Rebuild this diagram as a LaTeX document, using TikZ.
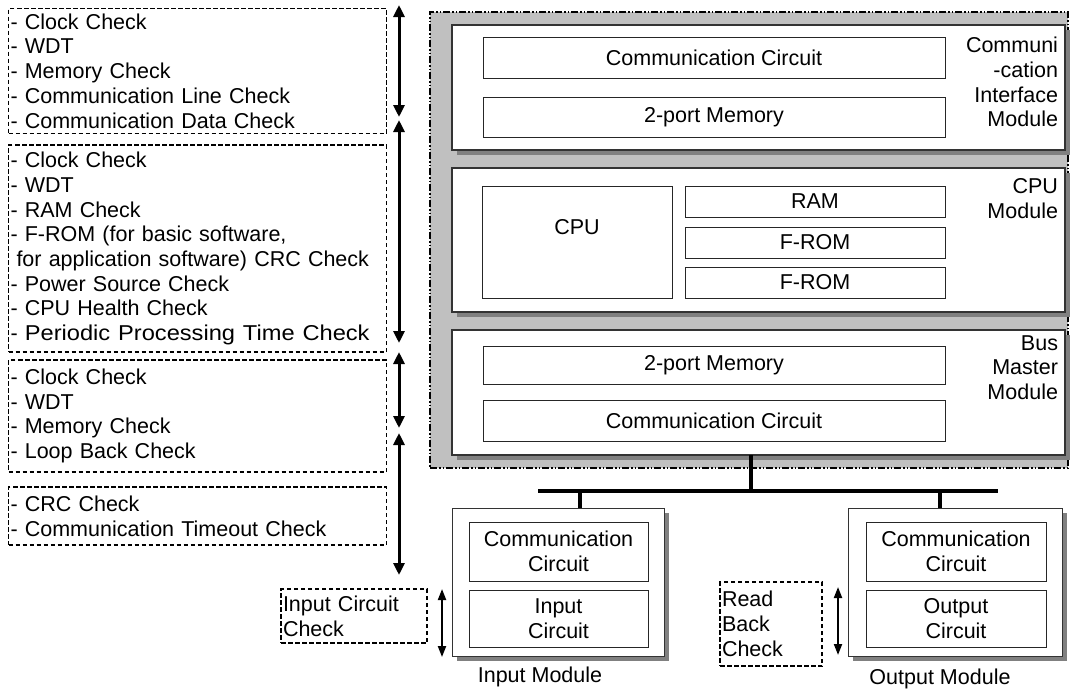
\documentclass[tikz,border=0pt]{standalone}
\usepackage{fontspec}
\usepackage{graphicx}
\setmainfont{Liberation Sans}
\usetikzlibrary{arrows.meta}
\definecolor{panelgray}{HTML}{C0C0C0}
\definecolor{shadowgray}{HTML}{808080}
\definecolor{edgegray}{HTML}{333333}
\begin{document}
\begin{tikzpicture}[x=1pt,y=-1pt,
  every node/.style={font=\fontsize{21.5}{24.7}\selectfont, inner sep=0pt, outer sep=0pt},
  chkbox/.style={draw=black, line width=1.6pt, dash pattern=on 4.5pt off 2.5pt, align=left, inner xsep=2pt},
  panelbox/.style={fill=panelgray, draw=black, line width=1.6pt, dash pattern=on 7pt off 2pt on 1.5pt off 2pt on 1.5pt off 2pt},
  module/.style={draw=edgegray, line width=1.3pt, fill=white},
  part/.style={draw=black!85, line width=1pt, fill=white, align=center},
  shade/.style={fill=shadowgray, draw=none},
  dimarrow/.style={line width=3pt, {Triangle[width=11pt,length=12pt]}-{Triangle[width=11pt,length=12pt]}},
  smallarrow/.style={line width=2pt, {Triangle[width=8pt,length=11pt]}-{Triangle[width=8pt,length=11pt]}},
  bus/.style={line width=4.5pt},
]
\useasboundingbox (0,0) rectangle (1078,691);
\fill[white] (0,0) rectangle (1078,691);

% ---- left check lists
\node[chkbox, text width=374pt, minimum height=125pt] (c1) at (197.5,71)
  {- Clock Check\\- WDT\\- Memory Check\\- Communication Line Check\\- Communication Data Check};
\node[chkbox, text width=374pt, minimum height=207pt] (c2) at (197.5,248.5)
  {- Clock Check\\- WDT\\- RAM Check\\- F-ROM (for basic software,\\\hspace*{0.28em}for application software) CRC Check\\- Power Source Check\\- CPU Health Check\\- \scalebox{1.1}[1]{Periodic Processing Time Check}};
\node[chkbox, text width=374pt, minimum height=112pt] (c3) at (197.5,416)
  {- Clock Check\\- WDT\\- Memory Check\\- Loop Back Check};
\node[chkbox, text width=374pt, minimum height=58pt] (c4) at (197.5,516)
  {- CRC Check\\- Communication Timeout Check};

% ---- left range arrows
\coordinate (a0) at (399,5);   \coordinate (a1) at (399,117);
\coordinate (a2) at (399,120); \coordinate (a3) at (399,343);
\coordinate (a4) at (399,352); \coordinate (a5) at (399,428);
\coordinate (a6) at (399,433); \coordinate (a7) at (399,575);
\draw[dimarrow] (a0) -- (a1);
\draw[dimarrow] (a2) -- (a3);
\draw[dimarrow] (a4) -- (a5);
\draw[dimarrow] (a6) -- (a7);

% ---- controller panel
\node[panelbox, minimum width=638pt, minimum height=456pt] (panel) at (749,240) {};

\fill[shade] (457,30) rectangle (1070,155);
\node[module, minimum width=613pt, minimum height=125pt] (cim) at (758.5,87.5) {};
\fill[shade] (457,173) rectangle (1070,317);
\node[module, minimum width=613pt, minimum height=144pt] (cpum) at (758.5,240) {};
\fill[shade] (457,335) rectangle (1070,460);
\node[module, minimum width=613pt, minimum height=125pt] (bmm) at (758.5,392.5) {};

\node[align=right, anchor=east] (cimlbl) at (1058,82) {Communi\\-cation\\Interface\\Module};
\node[align=right, anchor=east] (cpulbl) at (1058,198.5) {CPU\\Module};
\node[align=right, anchor=east] (bmmlbl) at (1058,367.5) {Bus\\Master\\Module};

\node[part, minimum width=462pt, minimum height=41pt] (cc1) at (714,57.5) {Communication Circuit};
\node[part, minimum width=462pt, minimum height=40pt] (pm1) at (714,117) {2-port Memory};

\node[part, minimum width=190pt, minimum height=112pt] (cpu) at (577,242) {};
\node (cputxt) at (577,227) {CPU};
\node[part, minimum width=260pt, minimum height=31pt] (ram) at (815,201.5) {RAM};
\node[part, minimum width=260pt, minimum height=31pt] (fr1) at (815,242.5) {F-ROM};
\node[part, minimum width=260pt, minimum height=31pt] (fr2) at (815,282.5) {F-ROM};

\node[part, minimum width=462pt, minimum height=38pt] (pm2) at (714,365) {2-port Memory};
\node[part, minimum width=462pt, minimum height=41pt] (cc2) at (714,420.5) {Communication Circuit};

% ---- I/O modules
\fill[shade] (457,513) rectangle (669,661);
\node[module, line width=1pt, minimum width=212pt, minimum height=148pt] (inm) at (558,582) {};
\node[part, minimum width=179pt, minimum height=59pt] (incc) at (558.5,551.5) {Communication\\Circuit};
\node[part, minimum width=179pt, minimum height=57pt] (inic) at (558.5,618.5) {Input\\Circuit};
\node (inlbl) at (540,677) {Input Module};

\fill[shade] (853,513) rectangle (1067,661);
\node[module, line width=1pt, minimum width=214pt, minimum height=148pt] (outm) at (955,582) {};
\node[part, minimum width=180pt, minimum height=59pt] (outcc) at (956,551.5) {Communication\\Circuit};
\node[part, minimum width=180pt, minimum height=57pt] (outoc) at (956,618.5) {Output\\Circuit};
\node (outlbl) at (940,679) {Output Module};

% ---- bus
\coordinate (busL) at (538,491);
\coordinate (busR) at (998,491);
\coordinate (bmmtap) at (751,491);
\coordinate (intap) at (580,491);
\coordinate (outtap) at (940,491);
\draw[bus] (busL) -- (busR);
\draw[bus] (bmmtap) -- (bmmtap |- bmm.south);
\draw[bus] (intap) -- (intap |- inm.north);
\draw[bus] (outtap) -- (outtap |- outm.north);

% ---- local checks
\node[chkbox, text width=142pt, minimum height=54pt] (icc) at (354,616) {Input Circuit\\Check};
\coordinate (ia1) at (442,589); \coordinate (ia2) at (442,657);
\draw[smallarrow] (ia1) -- (ia2);

\node[chkbox, text width=98pt, minimum height=84pt] (rbc) at (771,624) {Read\\Back\\Check};
\coordinate (oa1) at (838,587); \coordinate (oa2) at (838,655);
\draw[smallarrow] (oa1) -- (oa2);
\end{tikzpicture}
\end{document}
